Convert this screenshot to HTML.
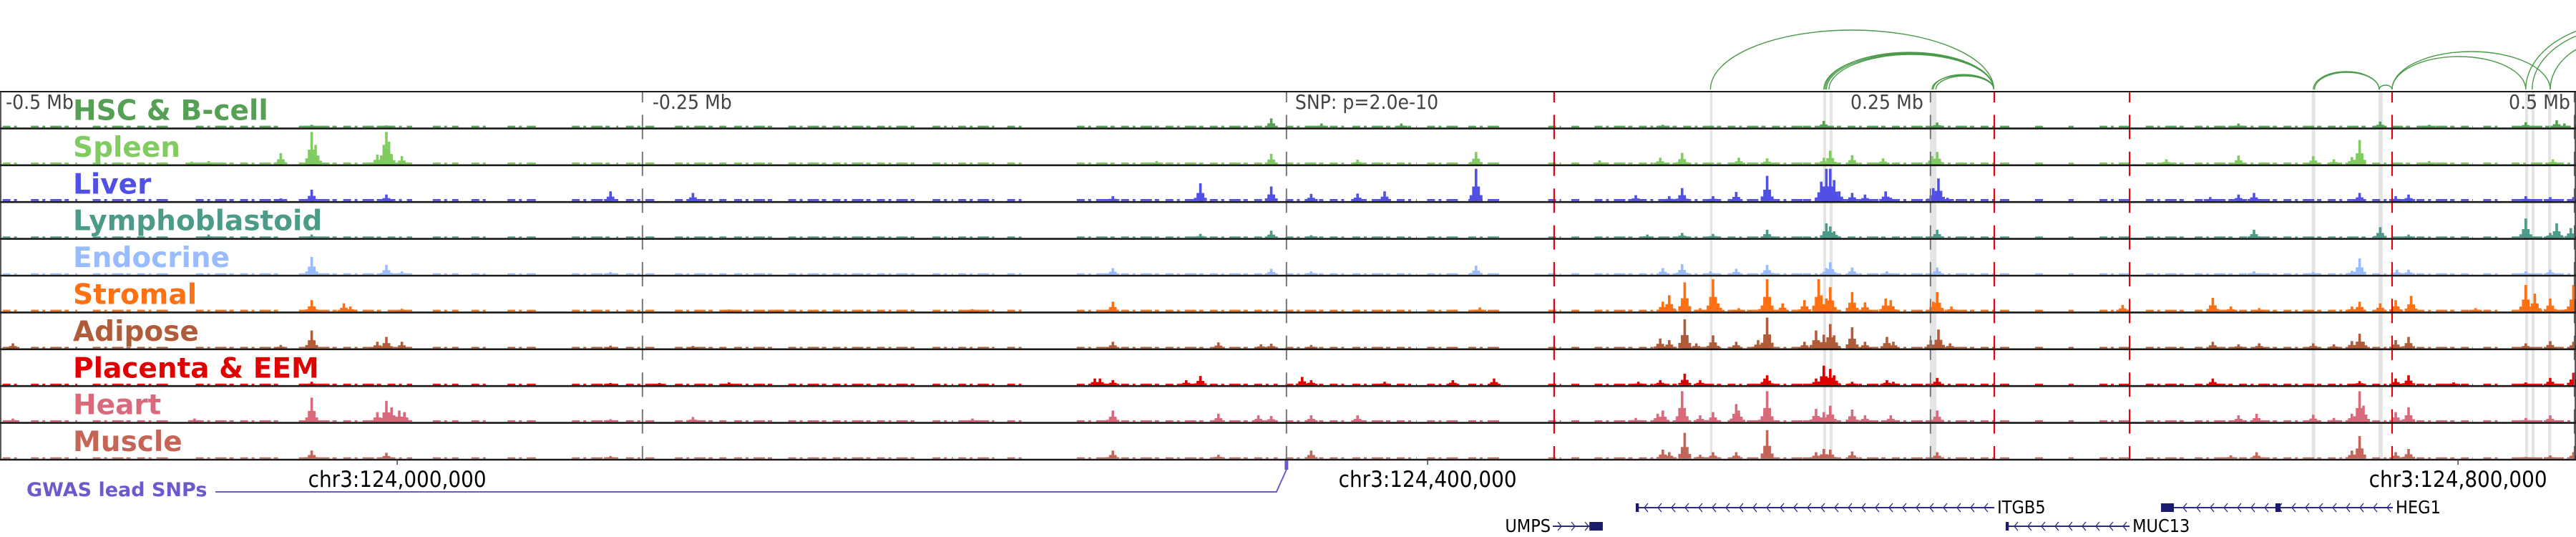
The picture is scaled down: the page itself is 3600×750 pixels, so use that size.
<!DOCTYPE html>
<html><head><meta charset="utf-8">
<style>
html,body{margin:0;padding:0;background:#fff;}
svg{display:block;}
.lab{font-family:"DejaVu Sans","Liberation Sans",sans-serif;font-weight:bold;font-size:39px;}
.ax{font-family:"DejaVu Sans Condensed","DejaVu Sans","Liberation Sans Narrow",sans-serif;font-size:28px;fill:#444;}
.chr{font-family:"DejaVu Sans Condensed","DejaVu Sans","Liberation Sans Narrow",sans-serif;font-size:31px;fill:#000;}
.gene{font-family:"DejaVu Sans Condensed","DejaVu Sans","Liberation Sans Narrow",sans-serif;font-size:25px;fill:#000;}
</style></head>
<body>
<svg id="chart" width="3600" height="750" viewBox="0 0 3600 750" xmlns="http://www.w3.org/2000/svg">
  <g id="bands"></g>
  <g id="arcs"></g>
  <g id="tracks"></g>
  <g id="vlines"></g>
  <g id="frame"></g>
  <g id="labels"></g>
  <g id="axis"></g>
  <g id="genes"></g>
  <g id="gwas"></g>
</svg>
<script>
// ---------- data ----------
const trackNames = ["HSC & B-cell","Spleen","Liver","Lymphoblastoid","Endocrine","Stromal","Adipose","Placenta & EEM","Heart","Muscle"];
const trackColors = ["#55a055","#80cc60","#5050e6","#4c9a88","#99bbff","#ff7012","#b05c3a","#e00000","#d86a7c","#c46558"];
const baseLevels = [0.05,0.05,0.06,0.04,0.04,0.05,0.04,0.04,0.05,0.04];
const coverage = [[1,8],[12,30],[36,66],[76,108],[116,160],[168,178],[183,190],[197,208],[222,240],[243,254],[262,282],[285,300],[306,355],[362,370],[372,386],[391,398],[418,496],[499,522],[525,550],[554,566],[570,583],[601,606],[610,614],[619,700],[700,780],[790,794],[803,805],[815,828],[833,850],[852,960],[964,970],[975,1000]];
const peaksHSC = [[121,0.08],[150,0.06],[493.5,0.28],[513,0.12],[544,0.12],[645.5,0.08],[708,0.2],[752,0.15],[869,0.12],[924,0.18],[943,0.08],[980.5,0.16],[992.5,0.22],[995.5,0.12]];
const peaksSpleen = [[74.5,0.08],[81,0.1],[109,0.34],[121,1.0],[122.5,0.6],[146.5,0.3],[149,0.6],[150,1.0],[151,0.7],[156,0.25],[449,0.1],[493.5,0.32],[527,0.14],[573,0.38],[621,0.12],[644.5,0.2],[653,0.35],[675,0.2],[686,0.18],[708,0.2],[710.5,0.42],[719,0.28],[731,0.18],[750,0.25],[752,0.38],[841,0.15],[869,0.27],[898,0.25],[906,0.15],[913,0.22],[916,0.75],[943,0.1],[991,0.15]];
const peaksLiver = [[109,0.08],[121,0.35],[150,0.2],[237,0.3],[269,0.25],[432,0.15],[466,0.55],[493.5,0.45],[509,0.22],[527,0.23],[537.5,0.3],[573,1.0],[635,0.18],[648,0.15],[653,0.4],[665,0.15],[674,0.28],[686,0.78],[707,0.6],[709,1.0],[710.5,1.0],[712,0.65],[714,0.3],[719,0.25],[724,0.2],[732,0.3],[734,0.1],[750.5,0.4],[752.5,0.7],[756,0.1],[858,0.12],[869,0.2],[875,0.25],[916,0.25],[930,0.15],[935,0.2],[980.5,0.15],[990,0.12],[999,0.12]];
const peaksLympho = [[81,0.1],[121,0.1],[466,0.12],[493.5,0.22],[509,0.08],[639.5,0.1],[653,0.15],[665,0.12],[686,0.25],[709,0.45],[710.5,0.35],[712,0.2],[752,0.25],[875,0.25],[924,0.33],[935,0.1],[980.5,0.6],[990,0.15],[992.5,0.45],[998,0.3]];
const peaksEndo = [[121,0.55],[150,0.3],[156,0.1],[237,0.08],[432,0.2],[493.5,0.18],[509,0.1],[573,0.28],[645.5,0.2],[653,0.32],[664,0.1],[674,0.18],[686,0.3],[709,0.2],[710.5,0.38],[719,0.22],[732.5,0.1],[752,0.22],[875,0.1],[898,0.08],[913,0.12],[916,0.5],[930.5,0.15],[935,0.15],[980.5,0.1],[990,0.15]];
const peaksStromal = [[121,0.35],[133.5,0.25],[136,0.15],[156,0.08],[283,0.06],[302,0.05],[377.5,0.07],[432,0.3],[574.5,0.12],[645.5,0.3],[648,0.5],[654,0.9],[660,0.1],[665,1.0],[667,0.25],[675,0.1],[685,0.4],[686,1.0],[692,0.25],[700.5,0.35],[706,1.0],[707,0.5],[709,0.4],[710.5,0.75],[719,0.6],[724,0.28],[732,0.4],[734,0.35],[750.5,0.3],[752,0.6],[757.5,0.15],[824,0.2],[859,0.42],[866,0.15],[877,0.1],[913,0.15],[916,0.3],[924,0.25],[930,0.35],[936,0.48],[961,0.1],[980.5,0.82],[984,0.55],[990,0.4],[997,0.15],[999,0.82]];
const peaksAdipose = [[5,0.15],[109,0.1],[121,0.55],[146.5,0.2],[150,0.35],[156,0.2],[237,0.08],[269,0.07],[432,0.2],[473,0.18],[489.5,0.12],[493.5,0.14],[509,0.1],[644.5,0.3],[648,0.25],[654,0.9],[658.5,0.15],[665,0.4],[674,0.2],[682.5,0.25],[685,0.3],[686,0.95],[700.5,0.2],[705,0.55],[708,0.42],[710.5,0.75],[712,0.4],[719,0.65],[724,0.2],[732.5,0.35],[735,0.2],[749.5,0.25],[752.5,0.58],[757,0.15],[859,0.2],[869,0.12],[877,0.15],[898,0.15],[906,0.12],[913,0.22],[916,0.45],[917.5,0.2],[930,0.25],[935,0.35],[980.5,0.15],[990,0.22],[999,0.2]];
const peaksPlacenta = [[121,0.1],[237,0.06],[256,0.06],[283,0.08],[425,0.2],[427,0.2],[432,0.15],[460.5,0.15],[466,0.28],[505.5,0.25],[509,0.15],[537.5,0.1],[564,0.15],[580,0.2],[636,0.1],[644.5,0.15],[654,0.35],[660,0.15],[685,0.2],[686,0.3],[705,0.2],[708,0.6],[710.5,0.5],[712,0.3],[719,0.1],[732.5,0.15],[735,0.1],[752,0.22],[859,0.2],[916,0.12],[930,0.2],[935,0.3],[952.5,0.08],[980.5,0.08],[990,0.22],[999,0.38]];
const peaksHeart = [[5,0.1],[75.5,0.1],[121,0.75],[146.5,0.3],[150,0.65],[152,0.45],[155,0.35],[157,0.3],[237,0.08],[269,0.15],[377.5,0.1],[432,0.35],[473,0.25],[488.5,0.2],[493.5,0.18],[509,0.2],[527,0.2],[635,0.12],[643.5,0.25],[645.5,0.35],[653,0.95],[660,0.2],[665,0.3],[674,0.55],[675,0.35],[685,0.35],[686,0.95],[705,0.4],[708,0.3],[710.5,0.5],[719,0.38],[724,0.2],[734,0.2],[752,0.35],[869,0.2],[876,0.25],[898,0.22],[906,0.12],[913,0.25],[916,0.95],[917.5,0.5],[930,0.3],[935,0.45],[980.5,0.12],[990,0.2]];
const peaksMuscle = [[121,0.25],[150,0.18],[237,0.08],[432,0.25],[473,0.12],[509,0.25],[645.5,0.28],[648,0.2],[654,0.8],[660,0.12],[665,0.2],[674,0.2],[686,0.88],[705,0.2],[708,0.3],[710.5,0.28],[719,0.22],[752,0.2],[866,0.1],[876,0.2],[913,0.25],[916,0.7],[930,0.2],[935,0.3],[980.5,0.05],[990,0.1],[999,0.2]];
const trackPeaks = [peaksHSC,peaksSpleen,peaksLiver,peaksLympho,peaksEndo,peaksStromal,peaksAdipose,peaksPlacenta,peaksHeart,peaksMuscle];

const bandStarts = [663.8,707.8,710.3,749.2,897.4,923.3,980.3,982.8,989.2];
const bandEnds   = [664.7,708.9,711.4,751.7,898.8,925,981.4,983.9,990.3];
const redLines = [603.3,774.2,826.7,928.6];
const grayLines = [249.4,499.4,749.4,999.4];
const snpPos = 499.4;
const arcStarts = [664,708,708.5,709,710,750,750.5,751.5,898,898.5,923.6,928.6,928.6,980.5,983,990];
const arcEnds   = [774,774,774,774,774,774,774,774,923.6,923.6,928.6,990,980.5,1061,1055.5,1044.5];
const arcScores = [83,51,52,50,49,20,21,19,25,24,6,53,46,95,88,72];
const tickGenomic = [124000000,124400000,124800000];
const tickLabels = ["chr3:124,000,000","chr3:124,400,000","chr3:124,800,000"];
const viewStart = 123845800;
const geneNames = ["ITGB5","UMPS","MUC13","HEG1"];
const geneStarts = [635,602.8,778.6,838.9];
const geneEnds = [774.2,622.2,826.7,928.9];
const geneStrand = [-1,1,-1,-1];
const geneRow = [0,1,1,0];
const geneExons = [[[635,636.2]],[[617,622.2]],[[778.6,779.8]],[[838.9,843.9],[883.3,885.3]]];

// ---------- scales ----------
const NS = "http://www.w3.org/2000/svg";
const X = kb => kb*3.6;
const TOP = 128, TH = 51.4, MAXH = 45, BOTTOM = TOP + TH*10;
function mk(tag, attrs, parent){const e=document.createElementNS(NS,tag);for(const k in attrs)e.setAttribute(k,attrs[k]);parent.appendChild(e);return e;}

// highlight bands
const gB = document.getElementById('bands');
bandStarts.forEach((s,i)=>{
  const r = mk('rect',{x:X(s),y:TOP,width:X(bandEnds[i])-X(s),height:BOTTOM-TOP,fill:'#e4e4e4'},gB);
  
  
});

// arcs
const gA = document.getElementById('arcs');
const ARCBASE = 125;
arcStarts.forEach((s,i)=>{
  const x1=X(s), x2=X(arcEnds[i]), rx=(x2-x1)/2, ry=arcScores[i];
  const p = mk('path',{d:`M${x1},${ARCBASE} A${rx},${ry} 0 0 1 ${x2},${ARCBASE}`,fill:'none',stroke:'#4a9a4a','stroke-width':1.4},gA);
  
  
});

// tracks
const gT = document.getElementById('tracks');
const gL = document.getElementById('labels');
trackNames.forEach((name,i)=>{
  const g = mk('g',{},gT);
  
  
  const base = TOP + TH*(i+1) - 1.5;
  const col = trackColors[i];
  coverage.forEach(c=>{
    const bh = baseLevels[i]*MAXH;
    const l = mk('line',{x1:X(c[0]),x2:X(c[1]),y1:base-bh/2,y2:base-bh/2,stroke:col,'stroke-width':bh,'stroke-dasharray':'11 5 4 7 16 4 6 9'},g);
    
    
  });
  trackPeaks[i].forEach(p=>{
    const cx = X(p[0]), h = p[1]*MAXH;
    const r = mk('rect',{x:cx-1.8,y:base-h,width:3.6,height:h,fill:col},g);
    
    
    const h2 = Math.max(h*0.45, baseLevels[i]*MAXH);
    const r2 = mk('rect',{x:cx-5.4,y:base-h2,width:10.8,height:h2,fill:col},g);
    
    
    const h3 = Math.max(h*0.18, baseLevels[i]*MAXH);
    const r3 = mk('rect',{x:cx-9,y:base-h3,width:18,height:h3,fill:col},g);
    
    
  });
  const t = mk('text',{x:102,y:TOP+TH*i+39.5,fill:col,class:'lab'},gL);
  t.textContent = name;
  
  
});

// marker lines
const gV = document.getElementById('vlines');
grayLines.forEach(k=>{
  const l = mk('line',{x1:X(k),x2:X(k),y1:TOP,y2:BOTTOM,stroke:'#777','stroke-width':2,'stroke-dasharray':'34 17.4','stroke-dashoffset':19},gV);
  
  
});
redLines.forEach(k=>{
  const l = mk('line',{x1:X(k),x2:X(k),y1:TOP,y2:BOTTOM,stroke:'#e8000a','stroke-width':2.2,'stroke-dasharray':'34 17.4','stroke-dashoffset':19},gV);
  
  
});

// frame & separators
const gF = document.getElementById('frame');
for(let i=0;i<=10;i++){
  const y = TOP + TH*i;
  const l = mk('line',{x1:0,x2:3600,y1:y,y2:y,stroke:'#1a1a1a','stroke-width':i===0?2:2.6},gF);
  
  
}
const fl = mk('line',{x1:1,x2:1,y1:TOP,y2:BOTTOM,stroke:'#222','stroke-width':1.5},gF);


const fr = mk('line',{x1:3599,x2:3599,y1:TOP,y2:BOTTOM,stroke:'#222','stroke-width':1.5},gF);



// top distance labels
const topLab = [["-0.5 Mb",8,"start"],["-0.25 Mb",X(grayLines[0])+14,"start"],["SNP: p=2.0e-10",X(snpPos)+12,"start"],["0.25 Mb",X(grayLines[2])-10,"end"],["0.5 Mb",X(grayLines[3])-6,"end"]];
topLab.forEach(t=>{
  const e = mk('text',{x:t[1],y:152,class:'ax','text-anchor':t[2]},gL);
  e.textContent = t[0];
  
  
});

// genomic axis
const gX = document.getElementById('axis');
tickGenomic.forEach((g,i)=>{
  const x = X((g-viewStart)/1000);
  const l = mk('line',{x1:x,x2:x,y1:BOTTOM,y2:BOTTOM+7,stroke:'#444','stroke-width':1.5},gX);
  
  
  const t = mk('text',{x:x,y:680,class:'chr','text-anchor':'middle'},gX);
  t.textContent = tickLabels[i];
  
  
});

// genes
const gG = document.getElementById('genes');
const rowY = [709,735];
geneNames.forEach((n,i)=>{
  const g = mk('g',{},gG);
  
  
  const y = rowY[geneRow[i]], x1=X(geneStarts[i]), x2=X(geneEnds[i]);
  mk('line',{x1:x1,x2:x2,y1:y,y2:y,stroke:'#2a2a80','stroke-width':2},g);
  let d='';
  for(let x=x1+12;x<x2-6;x+=19){
    if(geneStrand[i]<0) d+=`M${x+5},${y-6} L${x},${y} L${x+5},${y+6} `;
    else d+=`M${x-5},${y-6} L${x},${y} L${x-5},${y+6} `;
  }
  mk('path',{d:d,fill:'none',stroke:'#2a2a80','stroke-width':1.3},g);
  geneExons[i].forEach(ex=>{
    mk('rect',{x:X(ex[0]),y:y-6,width:X(ex[1])-X(ex[0]),height:12,fill:'#1b1b6e'},g);
  });
  const t = mk('text',{x: n==='UMPS'? x1-3 : x2+4, y:y+8, class:'gene','text-anchor': n==='UMPS'?'end':'start'},g);
  t.textContent = n;
  
  
});

// GWAS
const gW = document.getElementById('gwas');
const sx = X(snpPos);
const gt = mk('text',{x:37,y:693,fill:'#6a5acd',class:'lab'},gW);
gt.setAttribute('style','font-size:27px');
gt.textContent = 'GWAS lead SNPs';


const gl = mk('path',{d:`M301,687 L${sx-14},687 L${sx},656`,fill:'none',stroke:'#6a5acd','stroke-width':2},gW);


const gm = mk('rect',{x:sx-2.5,y:643,width:5,height:13,fill:'#6a5acd'},gW);


</script>
</body></html>
